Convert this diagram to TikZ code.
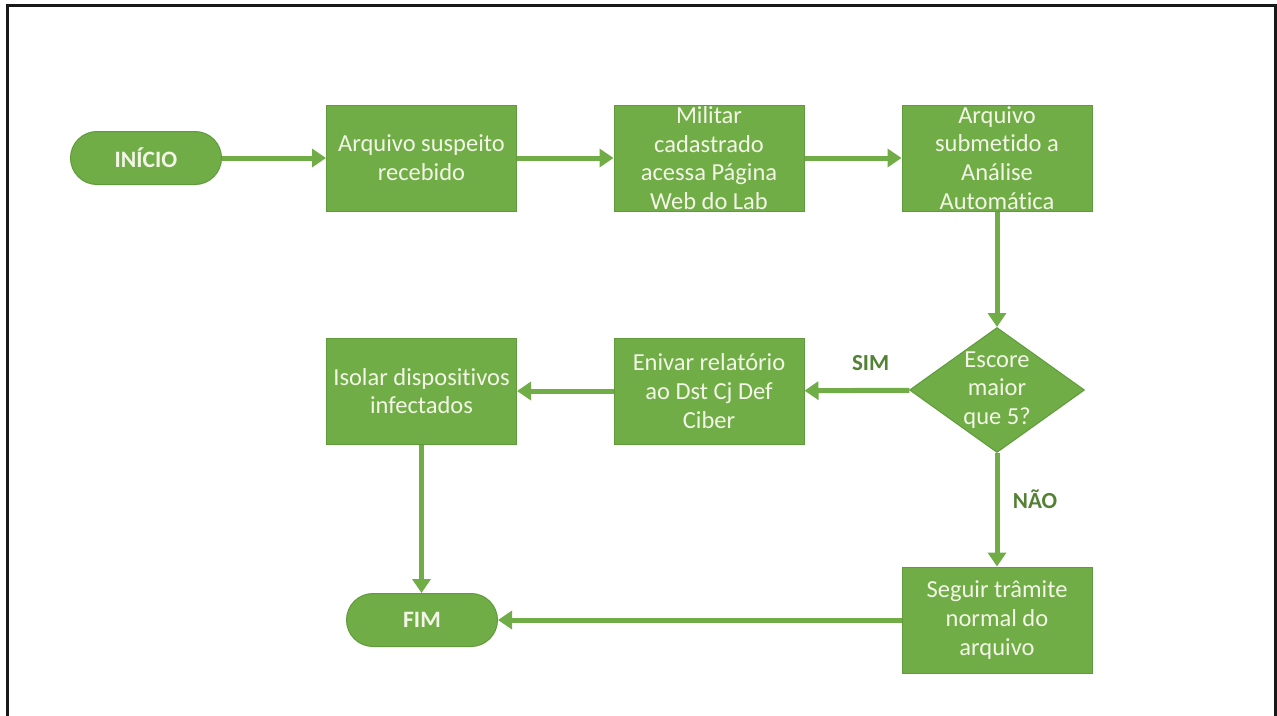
\documentclass[tikz,border=0pt]{standalone}
\usepackage{fontspec}
\setmainfont{Carlito}[Ligatures={NoCommon}]
\usetikzlibrary{shapes.geometric,arrows.meta}
\definecolor{gfill}{HTML}{70AD47}
\definecolor{gdraw}{HTML}{5F9A3B}
\definecolor{gtext}{HTML}{F3F5E6}
\definecolor{glab}{HTML}{548235}
\tikzset{
  boxtext/.style={text=gtext, align=center, inner sep=0pt, font=\fontsize{24.5}{28.8}\selectfont},
  procbox/.style={draw=gdraw, line width=1pt, fill=gfill, minimum width=190pt, minimum height=106pt, inner sep=0pt},
  termbox/.style={draw=gdraw, line width=1pt, fill=gfill, rounded corners=26.5pt, minimum width=151pt, minimum height=53pt, inner sep=0pt, text=gtext, font=\fontsize{23.5}{28}\selectfont\bfseries},
  decbox/.style={shape=diamond, draw=gdraw, line width=1pt, fill=gfill, minimum width=175pt, minimum height=125pt, inner sep=0pt},
  flow/.style={draw=gfill, line width=5pt, -{Triangle[length=14pt,width=18pt]}},
  lab/.style={text=glab, font=\fontsize{23}{27}\selectfont\bfseries}
}
\begin{document}
\begin{tikzpicture}[x=1pt,y=-1pt]
\useasboundingbox (0,0) rectangle (1277,715);
\fill[white] (0,0) rectangle (1277,715);
\draw[line width=3pt, black!90] (7,716) -- (7,5) -- (1275,5) -- (1275,716);

\node[termbox] (ini) at (146,158) {INÍCIO};
\node[procbox, label={[boxtext]center:Arquivo suspeito\\recebido}] (b1) at (421.5,158) {};
\node[procbox, label={[boxtext]center:Militar\\cadastrado\\acessa Página\\Web do Lab}] (b2) at (709,158) {};
\node[procbox, label={[boxtext]center:Arquivo\\submetido a\\Análise\\Automática}] (b3) at (997,158) {};
\node[decbox, label={[boxtext]center:Escore\\maior\\que 5?}] (dia) at (997,390) {};
\node[procbox, label={[boxtext]center:Enivar relatório\\ao Dst Cj Def\\Ciber}] (en) at (709,391) {};
\node[procbox, label={[boxtext]center:Isolar dispositivos\\infectados}] (iso) at (421.5,391) {};
\node[procbox, label={[boxtext]center:Seguir trâmite\\normal do\\arquivo}] (seg) at (997,620) {};
\node[termbox] (fim) at (422,620) {FIM};

\draw[flow] (ini) -- (b1);
\draw[flow] (b1) -- (b2);
\draw[flow] (b2) -- (b3);
\draw[flow] (b3) -- (dia);
\draw[flow] (dia) -- node[lab, pos=0.37, yshift=27pt] {SIM} (en);
\draw[flow] (en) -- (iso);
\draw[flow] (iso.south) -- (iso.south |- fim.north);
\draw[flow] (dia) -- node[lab, pos=0.41, xshift=38pt] {NÃO} (seg);
\draw[flow] (seg.west) -- (fim.east);
\end{tikzpicture}
\end{document}
